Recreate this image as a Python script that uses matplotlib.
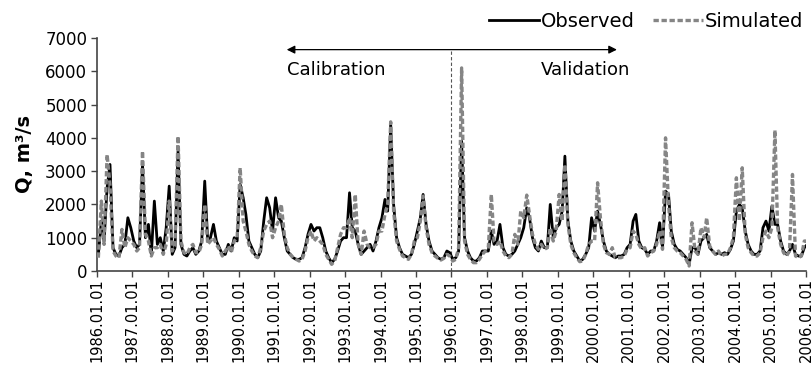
import numpy as np
import pandas as pd
import matplotlib
matplotlib.use("Agg")
import matplotlib.pyplot as plt
import matplotlib.dates as mdates

# monthly discharge, m3/s (Jan..Dec per year)
years = list(range(1986, 2006))

observed = [
    [500, 1500, 900, 2500, 3200, 700, 500, 450, 700, 800, 1600, 1300],      # 1986
    [900, 700, 800, 3200, 1000, 1400, 500, 2100, 800, 1000, 600, 1300],     # 1987
    [2550, 500, 700, 3600, 800, 500, 450, 600, 700, 500, 600, 900],         # 1988
    [2700, 900, 1000, 1400, 900, 700, 500, 500, 800, 600, 1000, 900],       # 1989
    [2600, 2200, 1700, 900, 700, 500, 400, 600, 1500, 2200, 1900, 1200],    # 1990
    [2200, 1600, 1500, 1000, 600, 500, 400, 350, 350, 400, 700, 1100],      # 1991
    [1400, 1200, 1300, 1300, 1000, 600, 400, 250, 350, 600, 900, 1000],     # 1992
    [1000, 2350, 1300, 1200, 800, 500, 600, 700, 800, 600, 900, 1300],      # 1993
    [1600, 2150, 1800, 4400, 2000, 1000, 700, 500, 450, 400, 500, 800],     # 1994
    [1200, 1600, 2300, 1400, 900, 600, 500, 400, 350, 400, 600, 550],       # 1995
    [350, 400, 600, 3900, 1000, 600, 400, 300, 300, 400, 600, 600],         # 1996
    [600, 1200, 800, 900, 1400, 700, 500, 450, 500, 600, 800, 1000],        # 1997
    [1300, 1900, 1600, 1000, 700, 600, 900, 700, 700, 2000, 1000, 1300],    # 1998
    [1400, 1800, 3450, 1500, 900, 600, 450, 300, 350, 500, 700, 1600],      # 1999
    [1200, 1800, 1400, 900, 600, 500, 450, 400, 450, 450, 500, 700],        # 2000
    [800, 1500, 1700, 900, 700, 650, 500, 600, 600, 900, 1450, 700],        # 2001
    [2400, 2300, 1200, 800, 650, 600, 500, 400, 200, 700, 700, 500],        # 2002
    [900, 1000, 1100, 700, 600, 500, 550, 500, 550, 500, 650, 900],         # 2003
    [1800, 2000, 1900, 1200, 800, 600, 500, 500, 600, 1300, 1500, 1200],    # 2004
    [1950, 1400, 1400, 900, 600, 500, 600, 800, 500, 450, 450, 700],        # 2005
]

simulated = [
    [400, 2100, 800, 3500, 2600, 600, 450, 400, 1250, 700, 1000, 900],      # 1986
    [800, 600, 700, 3600, 1100, 900, 450, 700, 700, 800, 500, 800],         # 1987
    [2100, 600, 800, 4050, 900, 550, 500, 700, 800, 550, 550, 800],         # 1988
    [2000, 800, 900, 1000, 800, 650, 450, 600, 750, 550, 900, 1000],        # 1989
    [3100, 1500, 1200, 800, 600, 450, 400, 700, 1200, 1400, 1500, 1000],    # 1990
    [1300, 1500, 2000, 1100, 700, 500, 400, 350, 300, 350, 600, 1000],      # 1991
    [1200, 900, 1000, 900, 800, 500, 350, 200, 300, 700, 1100, 1300],       # 1992
    [1300, 1600, 1000, 2300, 800, 500, 1200, 800, 700, 700, 800, 1200],     # 1993
    [1200, 1700, 2000, 4480, 1800, 900, 650, 450, 400, 350, 500, 900],      # 1994
    [1000, 1500, 2250, 1300, 800, 550, 450, 380, 330, 380, 500, 450],       # 1995
    [300, 350, 700, 6100, 900, 500, 350, 250, 250, 350, 500, 600],          # 1996
    [700, 2300, 900, 800, 900, 600, 450, 400, 500, 1100, 800, 1800],        # 1997
    [1600, 2280, 1700, 1100, 800, 650, 800, 650, 700, 1300, 900, 1200],     # 1998
    [2300, 1500, 3200, 1400, 800, 550, 400, 280, 300, 500, 800, 900],       # 1999
    [900, 2650, 1600, 800, 550, 500, 700, 400, 400, 400, 450, 650],         # 2000
    [700, 1200, 1100, 800, 650, 700, 450, 550, 600, 800, 1200, 650],        # 2001
    [4000, 2000, 1000, 700, 600, 550, 450, 350, 150, 1450, 600, 500],       # 2002
    [1300, 1000, 1600, 750, 600, 500, 600, 450, 500, 500, 700, 1000],       # 2003
    [2800, 1500, 3100, 1100, 700, 550, 450, 450, 550, 1000, 1200, 1000],    # 2004
    [1300, 4230, 1300, 800, 550, 450, 600, 2900, 450, 400, 450, 900],       # 2005
]

last_obs = 800   # 2006-01
last_sim = 900

split_date = "1996-01-01"
calib_start = "1991-05-10"
valid_end = "2000-09-01"


def main():
    dates = pd.date_range("1986-01-01", periods=len(years) * 12 + 1, freq="MS") + pd.Timedelta(days=14)
    obs = np.array([v for row in observed for v in row] + [last_obs])
    sim = np.array([v for row in simulated for v in row] + [last_sim])

    fig = plt.figure(figsize=(8.11, 3.67), dpi=100)
    ax = fig.add_axes([0.1196, 0.2616, 0.8742, 0.6349])

    ax.plot(dates, obs, color="black", lw=2.0, label="Observed", zorder=3)
    ax.plot(dates, sim, color="#858585", lw=2.4, linestyle=(0, (1.6, 0.8)),
            label="Simulated", zorder=4)

    split = pd.Timestamp(split_date)
    ax.plot([split, split], [0, 6640], color="#555555", lw=0.8,
            linestyle=(0, (3, 2)), zorder=2)
    ax.annotate("", xy=(pd.Timestamp(calib_start), 6650),
                xytext=(pd.Timestamp(valid_end), 6650),
                arrowprops=dict(arrowstyle="<|-|>", color="black", lw=0.9,
                                mutation_scale=12, shrinkA=0, shrinkB=0))
    ax.text(pd.Timestamp(calib_start), 6050, "Calibration", fontsize=13,
            ha="left", va="center")
    ax.text(pd.Timestamp("2001-01-15"), 6050, "Validation", fontsize=13,
            ha="right", va="center")

    ax.set_xlim(pd.Timestamp("1986-01-01"), pd.Timestamp("2006-01-01"))
    ax.set_ylim(0, 7000)
    ax.set_yticks(range(0, 7001, 1000))
    ax.xaxis.set_major_locator(mdates.YearLocator())
    ax.xaxis.set_major_formatter(mdates.DateFormatter("%Y.%m.%d"))
    plt.setp(ax.get_xticklabels(), rotation=90)
    ax.tick_params(axis="x", direction="out", length=4, width=1,
                   color="#444444", labelsize=10.5, pad=1)
    ax.tick_params(axis="y", direction="out", length=4, width=1,
                   color="#444444", labelsize=12, pad=3)

    for side in ("top", "right"):
        ax.spines[side].set_visible(False)
    for side in ("left", "bottom"):
        ax.spines[side].set_color("#444444")
        ax.spines[side].set_linewidth(1.2)

    ax.set_ylabel("Q, m³/s", fontsize=14, fontweight="bold", labelpad=8)

    fig.legend(loc="upper right", bbox_to_anchor=(1.005, 1.0), ncol=2,
               frameon=False, fontsize=14, handlelength=2.6,
               handletextpad=0.1, columnspacing=0.9, borderaxespad=0.2)

    fig.savefig("out.png", dpi=100)


if __name__ == "__main__":
    main()
